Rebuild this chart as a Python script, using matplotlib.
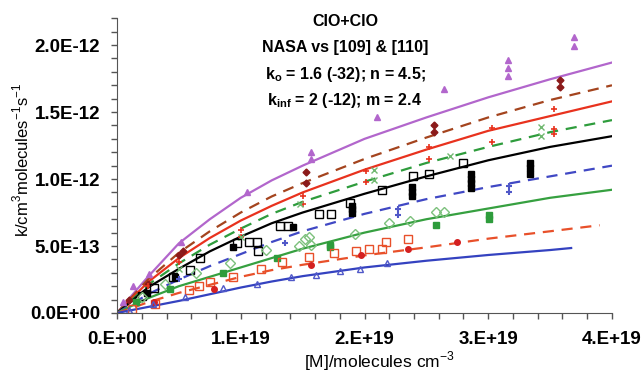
import matplotlib
matplotlib.use("Agg")
import matplotlib.pyplot as plt
import numpy as np

plt.rcParams['font.family'] = ['Liberation Sans', 'DejaVu Sans']
plt.rcParams['mathtext.fontset'] = 'custom'
plt.rcParams['mathtext.rm'] = 'Liberation Sans'
plt.rcParams['mathtext.bf'] = 'Liberation Sans:bold'

# --- curve data (x in 1e19 molecules cm-3, k in 1e-12) ---
x_fit = [0, 0.1, 0.25, 0.5, 0.75, 1.0, 1.25, 1.5, 2.0, 2.5, 3.0, 3.5, 4.0]
k_purple = [0, 0.11, 0.27, 0.52, 0.70, 0.86, 0.99, 1.10, 1.30, 1.46, 1.61, 1.745, 1.87]
k_brown = [0, 0.10, 0.25, 0.45, 0.61, 0.75, 0.87, 0.97, 1.15, 1.31, 1.46, 1.59, 1.70]
k_red = [0, 0.09, 0.23, 0.41, 0.56, 0.69, 0.80, 0.90, 1.07, 1.22, 1.36, 1.47, 1.58]
k_green_d = [0, 0.08, 0.21, 0.37, 0.51, 0.63, 0.74, 0.83, 0.98, 1.12, 1.24, 1.35, 1.44]
k_black = [0, 0.075, 0.19, 0.33, 0.46, 0.57, 0.67, 0.75, 0.89, 1.02, 1.14, 1.24, 1.32]
k_blue_d = [0, 0.055, 0.14, 0.25, 0.35, 0.44, 0.53, 0.61, 0.74, 0.85, 0.94, 1.02, 1.10]
k_green_s = [0, 0.045, 0.11, 0.20, 0.27, 0.34, 0.41, 0.48, 0.60, 0.70, 0.78, 0.86, 0.92]
x_orange = [0, 0.1, 0.25, 0.5, 0.75, 1.0, 1.25, 1.5, 2.0, 2.5, 3.0, 3.5, 3.9]
k_orange = [0, 0.03, 0.08, 0.15, 0.21, 0.27, 0.32, 0.36, 0.43, 0.49, 0.555, 0.61, 0.655]
x_blue_s = [0, 0.1, 0.25, 0.5, 0.75, 1.0, 1.25, 1.5, 2.0, 2.5, 3.0, 3.5, 3.67]
k_blue_s = [0, 0.018, 0.045, 0.09, 0.14, 0.19, 0.235, 0.275, 0.34, 0.39, 0.433, 0.47, 0.485]

# --- measured points ---
tri_x = [0.05, 0.13, 0.26, 0.52, 1.05, 1.57, 1.57, 2.1, 2.64, 3.16, 3.16, 3.16, 3.69, 3.69]
tri_k = [0.08, 0.2, 0.29, 0.53, 0.9, 1.15, 1.2, 1.46, 1.67, 1.77, 1.83, 1.89, 1.99, 2.06]
brown_x = [0.1, 0.25, 0.5, 0.53, 1.53, 1.53, 2.56, 2.56, 3.58, 3.58]
brown_k = [0.1, 0.22, 0.43, 0.46, 0.97, 1.05, 1.35, 1.40, 1.69, 1.74]
plus_x = [0.25, 0.5, 1.0, 1.0, 1.5, 1.5, 2.01, 2.01, 2.52, 2.52, 3.03, 3.03, 3.53, 3.53, 3.53]
plus_k = [0.2, 0.38, 0.57, 0.62, 0.81, 0.87, 0.98, 1.06, 1.15, 1.24, 1.28, 1.38, 1.34, 1.37, 1.52]
gx_x = [0.5, 1.0, 1.48, 2.08, 2.08, 2.69, 3.43, 3.43]
gx_k = [0.33, 0.57, 0.81, 0.99, 1.07, 1.17, 1.32, 1.39]
bsq_x = [0.2, 0.3, 0.45, 0.59, 0.67, 0.97, 1.07, 1.13, 1.14, 1.32, 1.38, 1.63, 1.73, 1.88, 2.14, 2.39, 2.52, 2.80]
bsq_k = [0.13, 0.19, 0.27, 0.32, 0.41, 0.52, 0.53, 0.53, 0.46, 0.65, 0.65, 0.74, 0.74, 0.82, 0.92, 1.02, 1.04, 1.12]
bfill_x = [0.24, 0.47, 0.94, 1.42, 1.9, 1.9, 1.9, 2.38, 2.38, 2.38, 2.86, 2.86, 2.86, 2.86, 3.34, 3.34, 3.34]
bfill_k = [0.15, 0.27, 0.49, 0.64, 0.75, 0.78, 0.80, 0.87, 0.90, 0.94, 0.93, 0.97, 1.00, 1.04, 1.04, 1.08, 1.12]
blu_x = [0.5, 1.36, 2.27, 2.27, 3.17, 3.17]
blu_k = [0.25, 0.525, 0.73, 0.78, 0.90, 0.95]
gdia_x = [0.2, 0.39, 0.64, 0.91, 1.2, 1.47, 1.52, 1.55, 1.57, 1.92, 2.2, 2.37, 2.58, 2.64]
gdia_k = [0.12, 0.22, 0.30, 0.37, 0.47, 0.50, 0.55, 0.57, 0.51, 0.59, 0.67, 0.69, 0.756, 0.756]
gsq_x = [0.15, 0.43, 0.86, 1.29, 1.72, 1.72, 2.58, 3.01, 3.01]
gsq_k = [0.08, 0.18, 0.30, 0.41, 0.49, 0.51, 0.66, 0.70, 0.73]
osq_x = [0.12, 0.31, 0.58, 0.66, 0.75, 0.94, 1.16, 1.33, 1.55, 1.75, 1.93, 2.04, 2.14, 2.17, 2.35]
osq_k = [0.03, 0.07, 0.17, 0.20, 0.23, 0.27, 0.33, 0.38, 0.42, 0.45, 0.46, 0.48, 0.48, 0.53, 0.55]
rdot_x = [0.3, 0.78, 1.57, 1.97, 2.35, 2.75]
rdot_k = [0.08, 0.18, 0.36, 0.43, 0.475, 0.53]
btri_x = [0.1, 0.29, 0.55, 0.86, 1.13, 1.41, 1.61, 1.80, 1.96, 2.18]
btri_k = [0.02, 0.07, 0.12, 0.19, 0.22, 0.27, 0.28, 0.31, 0.33, 0.37]

x_ticks = [0, 1, 2, 3, 4]
x_labels = ["0.E+00", "1.E+19", "2.E+19", "3.E+19", "4.E+19"]
y_ticks = [0, 0.5, 1.0, 1.5, 2.0]
y_labels = ["0.0E+00", "5.0E-13", "1.0E-12", "1.5E-12", "2.0E-12"]

fig = plt.figure(figsize=(6.44, 3.73), dpi=100)
ax = fig.add_axes([0.1817, 0.1609, 0.7686, 0.790])

dash = (5, 3.5)
ax.plot(x_fit, k_purple, color="#b266cc", lw=1.6)
ax.plot(x_fit, k_brown, color="#a4441e", lw=1.6, dashes=dash)
ax.plot(x_fit, k_red, color="#e8321e", lw=1.6)
ax.plot(x_fit, k_green_d, color="#2e9c3c", lw=1.6, dashes=dash)
ax.plot(x_fit, k_black, color="black", lw=1.6)
ax.plot(x_fit, k_blue_d, color="#4048c4", lw=1.6, dashes=dash)
ax.plot(x_fit, k_green_s, color="#36a040", lw=1.6)
ax.plot(x_orange, k_orange, color="#e8502a", lw=1.6, dashes=dash)
ax.plot(x_blue_s, k_blue_s, color="#3442c0", lw=1.6)

ax.plot(tri_x, tri_k, ls="none", marker="^", ms=5, color="#b266cc")
ax.plot(brown_x, brown_k, ls="none", marker="D", ms=3.5, color="#8b1a1a")
ax.plot(plus_x, plus_k, ls="none", marker="+", ms=5, mew=1.2, color="#e8321e")
ax.plot(gx_x, gx_k, ls="none", marker="x", ms=4, mew=1, color="#70b870")
ax.plot(bsq_x, bsq_k, ls="none", marker="s", ms=5.5, mfc="none", mec="black", mew=1)
ax.plot(bfill_x, bfill_k, ls="none", marker="s", ms=4, color="black")
ax.plot(blu_x, blu_k, ls="none", marker="+", ms=4, mew=1.5, color="#5058c8")
ax.plot(gdia_x, gdia_k, ls="none", marker="D", ms=5, mfc="none", mec="#7cc07c", mew=1)
ax.plot(gsq_x, gsq_k, ls="none", marker="s", ms=4, color="#2e9c3c")
ax.plot(osq_x, osq_k, ls="none", marker="s", ms=5.5, mfc="none", mec="#e8502a", mew=1)
ax.plot(rdot_x, rdot_k, ls="none", marker="o", ms=4, color="#d42020")
ax.plot(btri_x, btri_k, ls="none", marker="^", ms=5, mfc="none", mec="#5058c8", mew=1)

ax.set_xlim(0, 4)
ax.set_ylim(0, 2.2)
ax.set_xticks(x_ticks)
ax.set_xticklabels(x_labels, fontsize=13.5, fontweight="bold")
ax.set_xticks(np.arange(0, 4.01, 0.2), minor=True)
ax.set_yticks(y_ticks)
ax.set_yticklabels(y_labels, fontsize=13.5, fontweight="bold")
ax.set_yticks(np.arange(0, 2.21, 0.1), minor=True)
ax.tick_params(which="both", direction="out", length=4, width=1, color="#555555")
ax.tick_params(axis="y", pad=8)
ax.tick_params(axis="x", pad=9)

for side in ["top", "right"]:
    ax.spines[side].set_visible(False)
for side in ["left", "bottom"]:
    ax.spines[side].set_color("#555555")

ax.set_xlabel(r"[M]/molecules cm$^{-3}$", fontsize=12.5, va="top")
ax.xaxis.set_label_coords(0.53, -0.125)
ax.set_ylabel(r"k/cm$^{3}$molecules$^{-1}$s$^{-1}$", fontsize=12)
ax.yaxis.set_label_coords(-0.172, 0.52)

title_lines = ["ClO+ClO", "NASA vs [109] & [110]",
               r"k$_{\mathbf{o}}$ = 1.6 (-32); n = 4.5;",
               r"k$_{\mathbf{inf}}$ = 2 (-12); m = 2.4"]
for i, line in enumerate(title_lines):
    fig.text(345 / 644, 1 - (21 + 26.5 * i) / 373, line, ha="center", va="center",
             fontsize=11.5, fontweight="bold")

fig.savefig("out.png", dpi=100)
